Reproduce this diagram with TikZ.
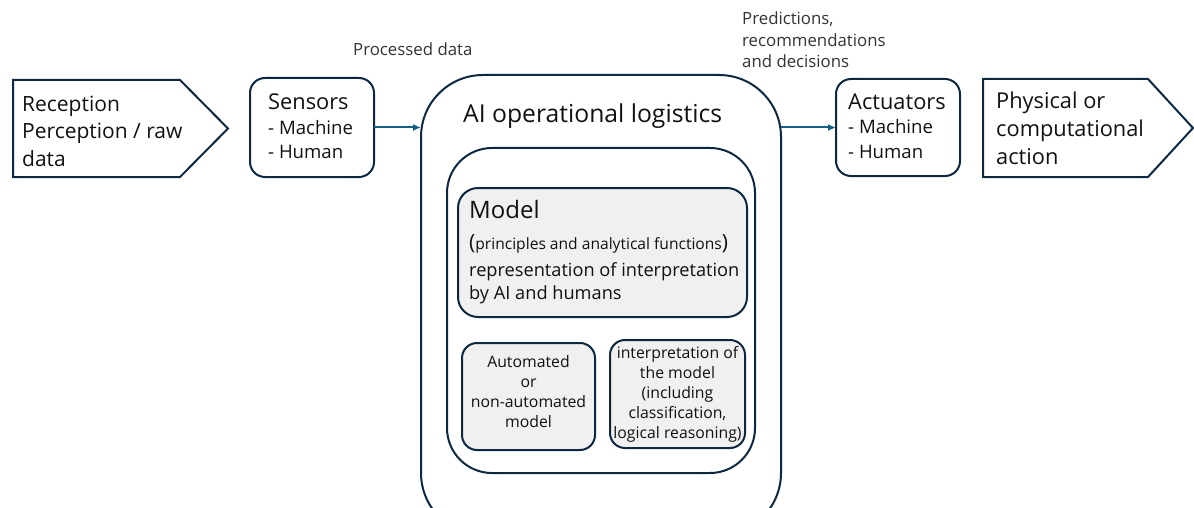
\documentclass[tikz,border=0pt]{standalone}
\usepackage{fontspec}
\setmainfont{Open Sans}
\usetikzlibrary{arrows.meta}
\definecolor{edge}{HTML}{0E2841}
\definecolor{arr}{HTML}{156082}
\definecolor{boxfill}{HTML}{F0F0F0}
\definecolor{txt}{HTML}{111111}
\definecolor{note}{HTML}{333333}
\begin{document}
\begin{tikzpicture}[x=1pt,y=-1pt,
  frame/.style={draw=edge,line width=2pt,inner sep=0pt,outer sep=0pt,anchor=north west},
  rbox/.style={frame,rounded corners=#1},
  flow/.style={draw=arr,line width=2pt,-{Latex[length=8pt,width=7pt]}},
  lbl/.style={inner sep=0pt,anchor=base west,text=txt},
  notelbl/.style={inner sep=0pt,anchor=base west,text=note,font=\fontsize{16.8}{22}\selectfont},
  ctr/.style={inner sep=0pt,anchor=base,text=txt,font=\fontsize{15.8}{20}\selectfont}]
\useasboundingbox (0,0) rectangle (1194,508);
\clip (0,0) rectangle (1194,508);
% input pentagon
\draw[draw=edge,line width=2pt] (13,80) -- (180,80) -- (228,128.5) -- (180,177) -- (13,177) -- cycle;
\node[lbl,font=\fontsize{21}{27.5}\selectfont] (rec1) at (22,111.5) {Reception};
\node[lbl,font=\fontsize{21}{27.5}\selectfont] (rec2) at (22,139) {Perception / raw};
\node[lbl,font=\fontsize{21}{27.5}\selectfont] (rec3) at (22,166.5) {data};
% sensors
\node[rbox=15,minimum width=124pt,minimum height=99pt] (sensors) at (250,78) {};
\node[lbl,font=\fontsize{21.8}{23}\selectfont] (sen1) at (268,109.5) {Sensors};
\node[lbl,font=\fontsize{18.6}{23}\selectfont] (sen2) at (268,134.5) {- Machine};
\node[lbl,font=\fontsize{18.6}{23}\selectfont] (sen3) at (268,158) {- Human};
% AI outer box
\node[rbox=62,minimum width=360pt,minimum height=460pt] (ai) at (421,75) {};
\node[lbl,font=\fontsize{24.7}{26}\selectfont] (ailbl) at (463,122.5) {AI operational logistics};
% inner box
\node[rbox=45,minimum width=308pt,minimum height=325pt] (inner) at (447,148) {};
% model box
\node[rbox=20,fill=boxfill,minimum width=289pt,minimum height=129pt] (model) at (458,188) {};
\node[lbl,font=\fontsize{24}{26}\selectfont] (m1) at (469,218.5) {Model};
\node[lbl,font=\fontsize{15.6}{16}\selectfont] (m2) at (469,249) {{\fontsize{21}{20}\selectfont(}principles and analytical functions{\fontsize{21}{20}\selectfont)}};
\node[lbl,font=\fontsize{18.2}{23}\selectfont] (m3) at (469,276) {representation of interpretation};
\node[lbl,font=\fontsize{18.2}{23}\selectfont] (m4) at (469,299) {by AI and humans};
% automated box
\node[rbox=15,fill=boxfill,minimum width=133pt,minimum height=107pt] (auto) at (462,343) {};
\node[ctr] (a1) at (528.5,367) {Automated};
\node[ctr] (a2) at (528.5,387) {or};
\node[ctr] (a3) at (528.5,407) {non-automated};
\node[ctr] (a4) at (528.5,427) {model};
% interpretation box
\node[rbox=15,fill=boxfill,minimum width=135pt,minimum height=108pt] (interp) at (610,340) {};
\node[ctr] (i1) at (677.5,358) {interpretation of};
\node[ctr] (i2) at (677.5,378) {the model};
\node[ctr] (i3) at (677.5,398) {(including};
\node[ctr] (i4) at (677.5,418) {classification,};
\node[ctr] (i5) at (677.5,438) {logical reasoning)};
% actuators
\node[rbox=15,minimum width=124pt,minimum height=97pt] (act) at (836,79) {};
\node[lbl,font=\fontsize{21.8}{23}\selectfont] (ac1) at (848,109.5) {Actuators};
\node[lbl,font=\fontsize{18.6}{23}\selectfont] (ac2) at (848,134) {- Machine};
\node[lbl,font=\fontsize{18.6}{23}\selectfont] (ac3) at (848,158) {- Human};
% output pentagon
\draw[draw=edge,line width=2pt] (983,79) -- (1148,79) -- (1193,128) -- (1148,177) -- (983,177) -- cycle;
\node[lbl,font=\fontsize{21.8}{28}\selectfont] (ph1) at (996,108.5) {Physical or};
\node[lbl,font=\fontsize{21.8}{28}\selectfont] (ph2) at (996,136.5) {computational};
\node[lbl,font=\fontsize{21.8}{28}\selectfont] (ph3) at (996,164.5) {action};
% connectors
\coordinate (sensout) at (sensors.east);
\draw[flow] (sensors.east) -- (ai.west |- sensout);
\coordinate (actin) at (act.west);
\draw[flow] (ai.east |- actin) -- (act.west);
% connector labels
\node[notelbl] (proc) at (353,56) {Processed data};
\node[notelbl] (pr1) at (742,25) {Predictions,};
\node[notelbl] (pr2) at (742,47) {recommendations};
\node[notelbl] (pr3) at (742,68) {and decisions};
\end{tikzpicture}
\end{document}
